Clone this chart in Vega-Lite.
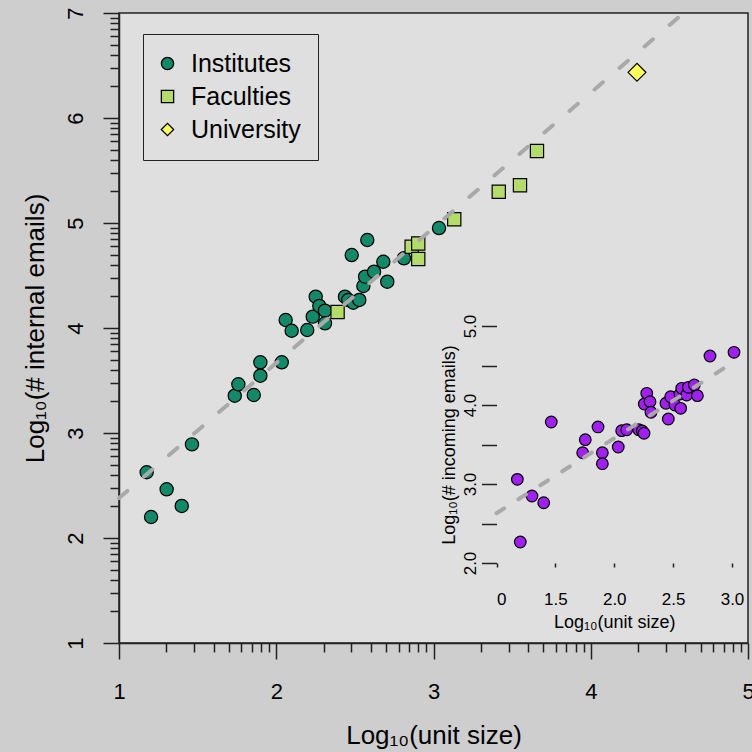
{
  "$schema": "https://vega.github.io/schema/vega-lite/v6.json",
  "width": 629,
  "height": 630,
  "autosize": {"type": "none"},
  "padding": {"left": 119, "top": 13, "right": 4, "bottom": 109},
  "background": "#cecece",
  "config": {
    "font": "Liberation Sans",
    "view": {"fill": "#dfdfdf", "stroke": "#222222", "strokeWidth": 1.5},
    "axis": {
      "grid": false,
      "labelColor": "#000000",
      "titleColor": "#000000",
      "labelFont": "Liberation Sans",
      "titleFont": "Liberation Sans",
      "titleFontWeight": "normal",
      "tickColor": "#222222",
      "domainColor": "#222222",
      "tickWidth": 1.5,
      "domainWidth": 1.5,
      "labelOverlap": false,
      "labelFlush": false
    },
    "legend": {
      "labelFontSize": 25, "labelFont": "Liberation Sans", "labelColor": "#000000",
      "symbolSize": 150, "symbolStrokeColor": "#000000", "symbolStrokeWidth": 1.3,
      "strokeColor": "#222222", "padding": 17, "rowPadding": 7, "labelOffset": 11, "symbolOffset": -5
    }
  },
  "datasets": {
    "main": [
      {"x": 1.176, "y": 2.626, "group": "Institutes"},
      {"x": 1.204, "y": 2.200, "group": "Institutes"},
      {"x": 1.303, "y": 2.464, "group": "Institutes"},
      {"x": 1.399, "y": 2.305, "group": "Institutes"},
      {"x": 1.464, "y": 2.892, "group": "Institutes"},
      {"x": 1.736, "y": 3.355, "group": "Institutes"},
      {"x": 1.759, "y": 3.464, "group": "Institutes"},
      {"x": 1.857, "y": 3.362, "group": "Institutes"},
      {"x": 1.899, "y": 3.546, "group": "Institutes"},
      {"x": 1.899, "y": 3.673, "group": "Institutes"},
      {"x": 2.035, "y": 3.673, "group": "Institutes"},
      {"x": 2.060, "y": 4.076, "group": "Institutes"},
      {"x": 2.098, "y": 3.974, "group": "Institutes"},
      {"x": 2.197, "y": 3.981, "group": "Institutes"},
      {"x": 2.232, "y": 4.108, "group": "Institutes"},
      {"x": 2.251, "y": 4.298, "group": "Institutes"},
      {"x": 2.274, "y": 4.210, "group": "Institutes"},
      {"x": 2.310, "y": 4.165, "group": "Institutes"},
      {"x": 2.310, "y": 4.045, "group": "Institutes"},
      {"x": 2.437, "y": 4.298, "group": "Institutes"},
      {"x": 2.458, "y": 4.267, "group": "Institutes"},
      {"x": 2.490, "y": 4.241, "group": "Institutes"},
      {"x": 2.528, "y": 4.267, "group": "Institutes"},
      {"x": 2.480, "y": 4.695, "group": "Institutes"},
      {"x": 2.579, "y": 4.838, "group": "Institutes"},
      {"x": 2.554, "y": 4.400, "group": "Institutes"},
      {"x": 2.565, "y": 4.489, "group": "Institutes"},
      {"x": 2.622, "y": 4.536, "group": "Institutes"},
      {"x": 2.681, "y": 4.631, "group": "Institutes"},
      {"x": 2.706, "y": 4.441, "group": "Institutes"},
      {"x": 2.812, "y": 4.664, "group": "Institutes"},
      {"x": 3.035, "y": 4.952, "group": "Institutes"},
      {"x": 2.390, "y": 4.152, "group": "Faculties"},
      {"x": 2.861, "y": 4.774, "group": "Faculties"},
      {"x": 2.903, "y": 4.805, "group": "Faculties"},
      {"x": 2.903, "y": 4.657, "group": "Faculties"},
      {"x": 3.132, "y": 5.035, "group": "Faculties"},
      {"x": 3.415, "y": 5.298, "group": "Faculties"},
      {"x": 3.550, "y": 5.359, "group": "Faculties"},
      {"x": 3.658, "y": 5.686, "group": "Faculties"},
      {"x": 4.294, "y": 6.435, "group": "University"}
    ],
    "fitMain": [
      {"x": 1.0, "y": 2.38},
      {"x": 4.59, "y": 7.0}
    ],
    "inset": [
      {"x": 1.177, "y": 3.059},
      {"x": 1.202, "y": 2.266},
      {"x": 1.301, "y": 2.848},
      {"x": 1.401, "y": 2.763},
      {"x": 1.465, "y": 3.785},
      {"x": 1.732, "y": 3.396},
      {"x": 1.754, "y": 3.561},
      {"x": 1.862, "y": 3.722},
      {"x": 1.899, "y": 3.396},
      {"x": 1.899, "y": 3.257},
      {"x": 2.034, "y": 3.468},
      {"x": 2.063, "y": 3.675},
      {"x": 2.106, "y": 3.687},
      {"x": 2.208, "y": 3.687},
      {"x": 2.238, "y": 3.671},
      {"x": 2.253, "y": 3.642},
      {"x": 2.255, "y": 4.013},
      {"x": 2.276, "y": 4.148},
      {"x": 2.304, "y": 4.042},
      {"x": 2.312, "y": 3.908},
      {"x": 2.439, "y": 4.022},
      {"x": 2.459, "y": 3.823},
      {"x": 2.479, "y": 4.105},
      {"x": 2.516, "y": 4.000},
      {"x": 2.564, "y": 3.958},
      {"x": 2.558, "y": 4.139},
      {"x": 2.573, "y": 4.211},
      {"x": 2.615, "y": 4.127},
      {"x": 2.629, "y": 4.224},
      {"x": 2.680, "y": 4.253},
      {"x": 2.706, "y": 4.118},
      {"x": 2.813, "y": 4.620},
      {"x": 3.017, "y": 4.667}
    ],
    "fitInset": [
      {"x": 1.0, "y": 2.63},
      {"x": 3.0, "y": 4.53}
    ]
  },
  "layer": [
    {
      "layer": [
        {
          "data": {"name": "main"},
          "transform": [{"filter": "datum.group != 'University'"}],
          "mark": {"type": "point", "filled": true, "stroke": "#000000", "strokeWidth": 1.2, "opacity": 1, "size": 175},
          "encoding": {
            "x": {
              "field": "x", "type": "quantitative",
              "scale": {"domain": [1, 5], "nice": false, "zero": false},
              "axis": {
                "orient": "bottom", "values": [1, 2, 3, 4, 5], "format": "d",
                "tickSize": 16, "labelFontSize": 22, "labelPadding": 22, "labelBaseline": "top",
                "title": "Log₁₀(unit size)", "titleFontSize": 26, "titleBaseline": "alphabetic", "titleY": 100
              }
            },
            "y": {
              "field": "y", "type": "quantitative",
              "scale": {"domain": [1, 7], "nice": false, "zero": false},
              "axis": {
                "orient": "left", "values": [1, 2, 3, 4, 5, 6, 7], "format": "d",
                "tickSize": 16, "labelFontSize": 22, "labelPadding": 21, "labelAngle": -90,
                "labelAlign": "center", "labelBaseline": "alphabetic",
                "title": "Log₁₀(# internal emails)", "titleFontSize": 26, "titleAngle": -90,
                "titleBaseline": "alphabetic", "titleX": -76
              }
            },
            "shape": {
              "field": "group", "type": "nominal",
              "scale": {"domain": ["Institutes", "Faculties", "University"], "range": ["circle", "square", "diamond"]},
              "legend": {
                "orient": "none", "legendX": 24, "legendY": 21, "title": null,
                "encoding": {"symbols": {"stroke": {"value": "#000000"}, "strokeWidth": {"value": 1.3}}}
              }
            },
            "fill": {
              "field": "group", "type": "nominal",
              "scale": {"domain": ["Institutes", "Faculties", "University"], "range": ["#14896a", "#b4dc6a", "#ffff5c"]},
              "legend": {
                "orient": "none", "legendX": 24, "legendY": 21, "title": null,
                "encoding": {"symbols": {"stroke": {"value": "#000000"}, "strokeWidth": {"value": 1.3}}}
              }
            }
          }
        },
        {
          "data": {"name": "main"},
          "transform": [{"filter": "datum.group == 'University'"}],
          "mark": {"type": "point", "filled": true, "stroke": "#000000", "strokeWidth": 1.2, "opacity": 1, "size": 320},
          "encoding": {
            "x": {"field": "x", "type": "quantitative", "axis": null},
            "y": {"field": "y", "type": "quantitative", "axis": null},
            "shape": {"field": "group", "type": "nominal"},
            "fill": {"field": "group", "type": "nominal"}
          }
        },
        {
          "data": {"name": "fitMain"},
          "mark": {"type": "line", "color": "#a9a9a9", "strokeWidth": 4, "strokeDash": [11, 22], "strokeCap": "round"},
          "encoding": {
            "x": {
              "field": "x", "type": "quantitative",
              "axis": {
                "orient": "bottom", "tickSize": 9, "labels": false, "domain": false, "title": null,
                "values": [1.30103, 1.47712, 1.60206, 1.69897, 1.77815, 1.8451, 1.90309, 1.95424,
                           2.30103, 2.47712, 2.60206, 2.69897, 2.77815, 2.8451, 2.90309, 2.95424,
                           3.30103, 3.47712, 3.60206, 3.69897, 3.77815, 3.8451, 3.90309, 3.95424,
                           4.30103, 4.47712, 4.60206, 4.69897, 4.77815, 4.8451, 4.90309, 4.95424]
              }
            },
            "y": {
              "field": "y", "type": "quantitative",
              "axis": {
                "orient": "left", "tickSize": 9, "labels": false, "domain": false, "title": null,
                "values": [1.30103, 1.47712, 1.60206, 1.69897, 1.77815, 1.8451, 1.90309, 1.95424,
                           2.30103, 2.47712, 2.60206, 2.69897, 2.77815, 2.8451, 2.90309, 2.95424,
                           3.30103, 3.47712, 3.60206, 3.69897, 3.77815, 3.8451, 3.90309, 3.95424,
                           4.30103, 4.47712, 4.60206, 4.69897, 4.77815, 4.8451, 4.90309, 4.95424,
                           5.30103, 5.47712, 5.60206, 5.69897, 5.77815, 5.8451, 5.90309, 5.95424,
                           6.30103, 6.47712, 6.60206, 6.69897, 6.77815, 6.8451, 6.90309, 6.95424]
              }
            }
          }
        }
      ],
      "resolve": {"axis": {"x": "independent", "y": "independent"}}
    },
    {
      "layer": [
        {
          "data": {"name": "inset"},
          "mark": {"type": "point", "filled": true, "fill": "#a020f0", "stroke": "#000000", "strokeWidth": 1.2, "size": 135, "opacity": 1},
          "encoding": {
            "x": {
              "field": "x", "type": "quantitative",
              "scale": {"domain": [1, 3], "range": [377.5, 613], "nice": false, "zero": false},
              "axis": {
                "orient": "bottom", "offset": -80, "values": [1, 1.5, 2, 2.5, 3], "domain": false,
                "tickSize": 4, "labelFontSize": 17, "labelPadding": 24, "labelBaseline": "top",
                "labelExpr": "datum.value == 1 ? '0' : format(datum.value, '.1f')",
                "labelAlign": {"condition": {"test": "datum.value == 1", "value": "left"}, "value": "center"},
                "title": "Log₁₀(unit size)", "titleFontSize": 18, "titleBaseline": "alphabetic", "titleY": 64
              }
            },
            "y": {
              "field": "y", "type": "quantitative",
              "scale": {"domain": [2, 5], "range": [550, 313], "nice": false, "zero": false},
              "axis": {
                "orient": "left", "offset": -377.5, "values": [2, 2.5, 3, 3.5, 4, 4.5, 5], "domain": false,
                "tickSize": 15, "labelFontSize": 17, "labelPadding": 6, "labelAngle": -90,
                "labelAlign": "center", "labelBaseline": "alphabetic",
                "labelExpr": "datum.value % 1 == 0 ? format(datum.value, '.1f') : ''",
                "title": "Log₁₀(# incoming emails)", "titleFontSize": 18, "titleAngle": -90,
                "titleBaseline": "alphabetic", "titleX": -42
              }
            }
          }
        },
        {
          "data": {"name": "fitInset"},
          "mark": {"type": "line", "color": "#a9a9a9", "strokeWidth": 4, "strokeDash": [9, 17], "strokeCap": "round"},
          "encoding": {
            "x": {"field": "x", "type": "quantitative"},
            "y": {"field": "y", "type": "quantitative"}
          }
        },
        {
          "mark": {"type": "rect", "fillOpacity": 0, "stroke": "#222222", "strokeWidth": 1.5},
          "encoding": {
            "x": {"datum": 1, "type": "quantitative"},
            "x2": {"datum": 3},
            "y": {"datum": 2, "type": "quantitative"},
            "y2": {"datum": 5}
          }
        }
      ]
    }
  ],
  "resolve": {"scale": {"x": "independent", "y": "independent"}, "axis": {"x": "independent", "y": "independent"}}
}
